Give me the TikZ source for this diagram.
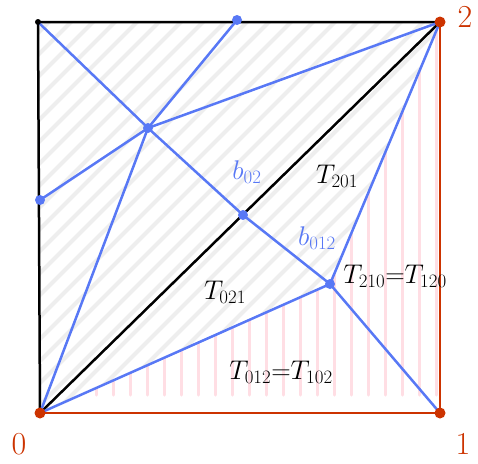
\RequirePackage{fix-cm}
\documentclass[tikz,border=0pt]{standalone}
\usepackage{tikz}
\usepackage{xcolor}
\definecolor{sketchblue}{RGB}{88,120,245}
\definecolor{sketchred}{RGB}{204,51,0}
\definecolor{hatchgray}{RGB}{238,238,238}
\definecolor{hatchpink}{RGB}{255,222,228}

\begin{document}
\begin{tikzpicture}[x=1pt,y=-1pt,line width=2.5pt,line cap=round,line join=round,
  blueline/.style={sketchblue},
  redline/.style={sketchred},
  lbl/.style={font=\fontsize{27}{32}\selectfont},
  vlbl/.style={font=\fontsize{32}{36}\selectfont,text=sketchred}]
  \useasboundingbox (0,0) rectangle (478,463);
  % corners and points
  \coordinate (TL) at (38,22);
  \coordinate (V0) at (40,413);
  \coordinate (V1) at (440,413);
  \coordinate (V2) at (440,22);
  \coordinate (mtop) at (237,20);
  \coordinate (mleft) at (40,200);
  \coordinate (c) at (148,128);
  \coordinate (b02) at (243,215);
  \coordinate (b012) at (330,284);
  % gray hatching
  \begin{scope}
    \clip (TL) -- (V0) -- (b012) -- (V2) -- cycle;
    \foreach \s in {-480,-458,...,480}
      \draw[hatchgray,line width=4pt] (\s,463) -- (\s+463,0);
  \end{scope}
  % pink hatching
  \begin{scope}
    \clip (V0) -- (V1) -- (V2) -- (b012) -- cycle;
    \foreach \s in {45,62,...,440}
      \draw[hatchpink,line width=3pt] (\s,395) -- (\s,30);
  \end{scope}
  % square
  \draw (V0) -- (TL) -- (V2);
  \draw[redline] (V0) -- (V1) -- (V2);
  \draw (V0) -- (V2);
  % subdivision
  \draw[blueline] (TL) -- (c) -- (b02) -- (b012) -- (V1);
  \draw[blueline] (mtop) -- (c) -- (V0);
  \draw[blueline] (mleft) -- (c) -- (V2);
  \draw[blueline] (V0) -- (b012) -- (V2);
  % dots
  \fill (TL) circle (3pt);
  \foreach \p in {V0,V1,V2}
    \fill[sketchred] (\p) circle (5.5pt);
  \foreach \p in {mtop,mleft,c,b02,b012}
    \fill[sketchblue] (\p) circle (5pt);
  % labels
  \node[vlbl] (l0) at (19,444) {0};
  \node[vlbl] (l1) at (463,444) {1};
  \node[vlbl] (l2) at (465,17) {2};
  \node[lbl,text=sketchblue] (lb02) at (247,172) {$b_{02}$};
  \node[lbl,text=sketchblue] (lb012) at (317,238) {$b_{012}$};
  \node[lbl] (lT201) at (337,176) {$T_{201}$};
  \node[lbl] (lT021) at (225,292) {$T_{021}$};
  \node[lbl] (lT210) at (395,276) {$T_{210}{=}T_{120}$};
  \node[lbl] (lT012) at (281,372) {$T_{012}{=}T_{102}$};
\end{tikzpicture}
\end{document}
